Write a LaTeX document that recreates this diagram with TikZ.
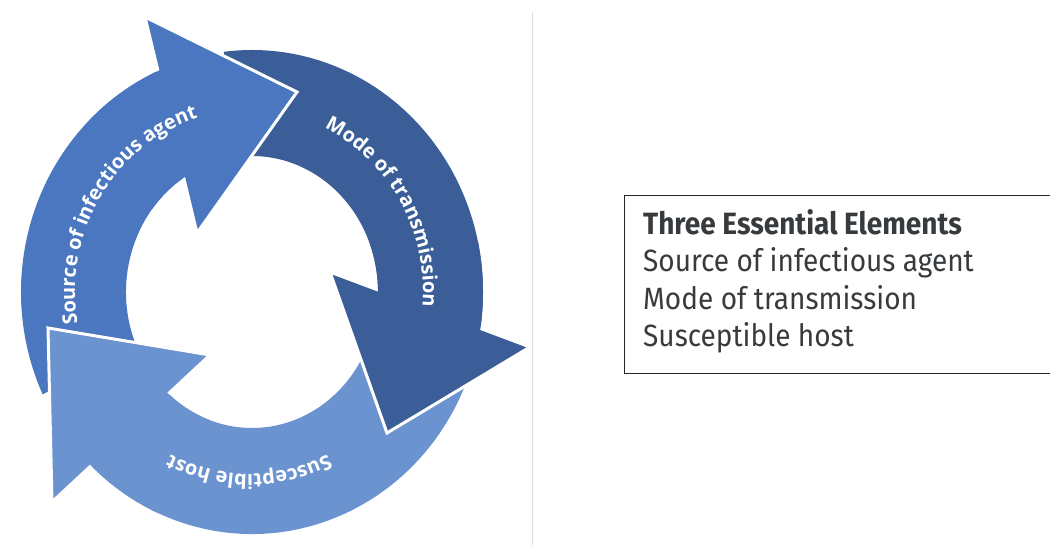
\documentclass[tikz,border=0pt]{standalone}
\usepackage{fontspec}
\usetikzlibrary{calc,decorations.text}
\newfontfamily\arcfont{Open Sans}
\newfontfamily\boxfont{Fira Sans}
\definecolor{srcblue}{HTML}{4A77BF}
\definecolor{modeblue}{HTML}{3B5E98}
\definecolor{hostblue}{HTML}{6B93CF}
\definecolor{boxtext}{HTML}{383B3E}
\definecolor{sepgray}{HTML}{DDDDDD}

\begin{document}
\begin{tikzpicture}[x=1pt,y=1pt,
  headline/.style={draw=white, line width=3pt, line join=miter},
  arclabel/.style={decorate, decoration={text along path, text align=center, text color=white}},
  sepline/.style={draw=sepgray, line width=1pt},
  legendbox/.style={draw=black!85, line width=1.3pt, inner sep=0pt, anchor=north west},
  legendtext/.style={text=boxtext, inner sep=0pt, anchor=base west, yscale=1.1, transform shape,
    font=\boxfont\fontsize{28}{32}\selectfont}]
\useasboundingbox (0,-545) rectangle (1050,0);
\coordinate (c) at (252,-292);
\coordinate (tc) at (249,-292);

% ---- ring bodies (tails run under the neighbouring heads)
\fill[srcblue] ($(c)+(205:231pt and 242pt)$) arc[start angle=205, end angle=112, x radius=231pt, y radius=242pt]
  -- ($(c)+(120:126pt and 136pt)$) arc[start angle=120, end angle=205, x radius=126pt, y radius=136pt] -- cycle;
\fill[modeblue] ($(c)+(97:231pt and 242pt)$) arc[start angle=97, end angle=-11, x radius=231pt, y radius=242pt]
  -- ($(c)+(-1:126pt and 136pt)$) arc[start angle=-1, end angle=97, x radius=126pt, y radius=136pt] -- cycle;
\fill[hostblue] ($(c)+(-20:231pt and 242pt)$) arc[start angle=-20, end angle=-137, x radius=231pt, y radius=242pt]
  -- ($(c)+(-133:126pt and 136pt)$) arc[start angle=-133, end angle=-20, x radius=126pt, y radius=136pt] -- cycle;

% ---- arrow heads with white outline
\coordinate (srcA) at (145,-17);  \coordinate (srcT) at (297,-92);  \coordinate (srcB) at (197,-233);
\coordinate (modA) at (330,-272); \coordinate (modB) at (530,-347); \coordinate (modT) at (387,-433);
\coordinate (hosT) at (48,-328);  \coordinate (hosA) at (210,-355); \coordinate (hosB) at (52,-502);
\filldraw[fill=srcblue, headline] (srcA) -- (srcT) -- (srcB) -- cycle;
\filldraw[fill=modeblue, headline] (modA) -- (modB) -- (modT) -- cycle;
\filldraw[fill=hostblue, headline] (hosT) -- (hosA) -- (hosB) -- cycle;

% ---- join each head to its own body again
\fill[srcblue] ($(c)+(135:231pt and 242pt)$) arc[start angle=135, end angle=112, x radius=231pt, y radius=242pt]
  -- ($(c)+(120:126pt and 136pt)$) arc[start angle=120, end angle=143, x radius=126pt, y radius=136pt] -- cycle;
\fill[modeblue] ($(c)+(12:231pt and 242pt)$) arc[start angle=12, end angle=-11, x radius=231pt, y radius=242pt]
  -- ($(c)+(-1:126pt and 136pt)$) arc[start angle=-1, end angle=22, x radius=126pt, y radius=136pt] -- cycle;
\fill[hostblue] ($(c)+(-114:231pt and 242pt)$) arc[start angle=-114, end angle=-137, x radius=231pt, y radius=242pt]
  -- ($(c)+(-133:126pt and 136pt)$) arc[start angle=-133, end angle=-110, x radius=126pt, y radius=136pt] -- cycle;

% ---- curved labels
\path[arclabel, decoration={text={|\arcfont\bfseries\fontsize{20}{20}\selectfont|Source of infectious agent}}]
  ($(tc)+(218:174pt and 182pt)$) arc[start angle=218, end angle=78, x radius=174pt, y radius=182pt];
\path[arclabel, decoration={text={|\arcfont\bfseries\fontsize{20}{20}\selectfont|Mode of transmission}}]
  ($(tc)+(100.5:174pt and 182pt)$) arc[start angle=100.5, end angle=-39.5, x radius=174pt, y radius=182pt];
\path[arclabel, decoration={text={|\arcfont\bfseries\fontsize{20}{20}\selectfont|Susceptible host}}]
  ($(tc)+(-20:174pt and 182pt)$) arc[start angle=-20, end angle=-160, x radius=174pt, y radius=182pt];

% ---- separator
\coordinate (septop) at (532,-12);
\coordinate (sepbot) at (532,-545);
\draw[sepline] (septop) -- (sepbot);

% ---- legend
\node[legendbox, minimum width=450pt, minimum height=178pt] (legend) at (624,-195) {};
\node[legendtext] (ltitle) at (643,-235) {\bfseries Three Essential Elements};
\node[legendtext] (lsrc) at (643,-272) {Source of infectious agent};
\node[legendtext] (lmode) at (643,-309.5) {Mode of transmission};
\node[legendtext] (lhost) at (643,-347) {Susceptible host};
\end{tikzpicture}
\end{document}
